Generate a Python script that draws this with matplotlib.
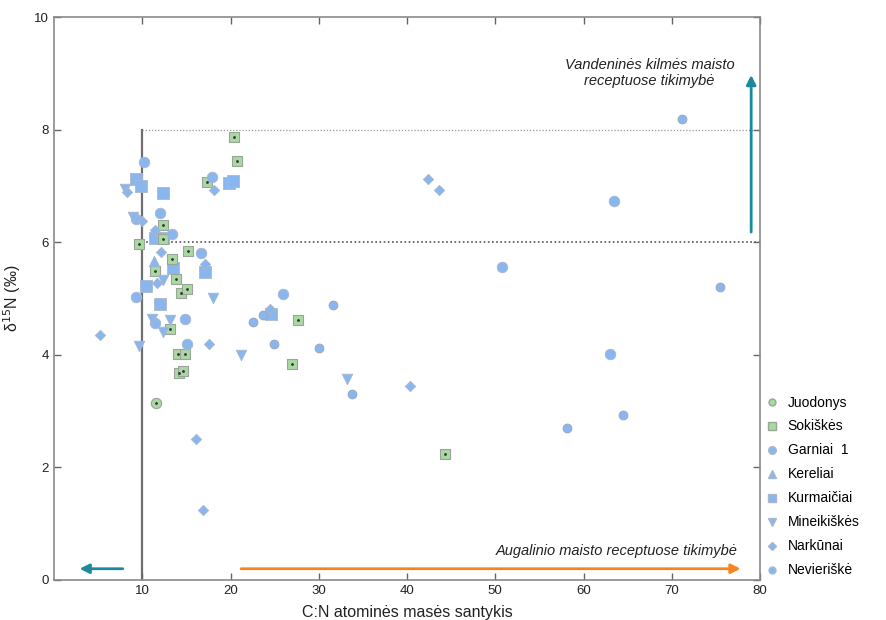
import matplotlib
matplotlib.use("Agg")
import matplotlib.pyplot as plt

plt.rcParams['font.family'] = ['Liberation Sans', 'DejaVu Sans']

# ---- data (C:N ratio, delta15N) ----
juodonys_x = [11.6]
juodonys_y = [3.15]

sokiskes_x = [20.4, 20.7, 17.3, 12.3, 12.3, 9.6, 15.2, 13.4, 11.4, 13.8, 14.4, 15.1,
              13.1, 14.1, 14.8, 14.2, 14.6, 27.7, 27.0, 44.3]
sokiskes_y = [7.87, 7.44, 7.07, 6.31, 6.05, 5.96, 5.85, 5.71, 5.48, 5.34, 5.10, 5.16,
              4.45, 4.01, 4.01, 3.67, 3.71, 4.61, 3.83, 2.24]

garniai_x = [10.2, 12.0, 13.4, 9.3, 16.7, 9.3, 11.5, 14.8, 15.1, 17.9, 26.0, 50.8,
             63.4, 63.0]
garniai_y = [7.43, 6.51, 6.14, 6.42, 5.80, 5.03, 4.57, 4.63, 4.19, 7.15, 5.08, 5.56,
             6.73, 4.01]

kereliai_x = [11.3]
kereliai_y = [5.66]

kurmaiciai_x = [9.3, 9.9, 12.3, 11.5, 12.4, 13.5, 17.1, 10.4, 12.0, 19.8, 20.3, 24.6]
kurmaiciai_y = [7.12, 7.00, 6.87, 6.07, 6.07, 5.54, 5.47, 5.23, 4.90, 7.06, 7.09, 4.72]

mineikiskes_x = [8.0, 8.9, 12.4, 18.0, 11.1, 13.2, 12.4, 9.6, 21.2, 33.2]
mineikiskes_y = [6.95, 6.45, 5.33, 5.01, 4.63, 4.61, 4.41, 4.16, 4.00, 3.57]

narkunai_x = [8.3, 10.0, 11.4, 12.1, 17.1, 11.7, 18.1, 5.2, 17.6, 16.1, 16.9, 24.5,
              40.3, 42.4, 43.6]
narkunai_y = [6.90, 6.37, 6.22, 5.83, 5.61, 5.28, 6.92, 4.35, 4.20, 2.50, 1.24, 4.81,
              3.45, 7.12, 6.93]

nevieriske_x = [71.2, 75.5, 22.6, 23.7, 24.9, 30.0, 31.6, 33.8, 58.1, 64.5]
nevieriske_y = [8.18, 5.21, 4.58, 4.71, 4.20, 4.12, 4.89, 3.30, 2.70, 2.93]

x_ticks = [10, 20, 30, 40, 50, 60, 70, 80]
y_ticks = [0, 2, 4, 6, 8, 10]

blue = '#8ab6ef'
blue_edge = '#a9b8cc'
green = '#a9d8a3'
green_edge = '#9aa59a'
teal = '#1a8a9c'
orange = '#f7841f'

fig = plt.figure(figsize=(8.87, 6.20), dpi=100)
ax = fig.add_axes([54/887, 1-580/620, (760-54)/887, (580-17)/620])

# reference lines
ax.plot([10, 10], [0, 8], color='#6e6e6e', lw=1.6, zorder=1)
ax.plot([10, 80], [6, 6], color='#555555', lw=1.2, ls=(0, (1, 1.5)), zorder=1)
ax.plot([10, 80], [8, 8], color='#999999', lw=0.9, ls=(0, (1, 1.5)), zorder=1)

# series
ax.scatter(sokiskes_x, sokiskes_y, marker='s', s=62, c=green, edgecolors=green_edge,
           linewidths=0.8, zorder=3)
ax.scatter(sokiskes_x, sokiskes_y, marker='.', s=4, c='#333333', zorder=4)
ax.scatter(juodonys_x, juodonys_y, marker='o', s=55, c=green, edgecolors=green_edge,
           linewidths=0.8, zorder=3)
ax.scatter(juodonys_x, juodonys_y, marker='.', s=4, c='#333333', zorder=4)
ax.scatter(garniai_x, garniai_y, marker='o', s=58, c=blue, edgecolors=blue_edge,
           linewidths=0.6, zorder=3)
ax.scatter(kereliai_x, kereliai_y, marker='^', s=58, c=blue, edgecolors=blue_edge,
           linewidths=0.6, zorder=3)
ax.scatter(kurmaiciai_x, kurmaiciai_y, marker='s', s=70, c=blue, edgecolors=blue_edge,
           linewidths=0.6, zorder=2.9)
ax.scatter(mineikiskes_x, mineikiskes_y, marker='v', s=58, c=blue, edgecolors=blue_edge,
           linewidths=0.6, zorder=3)
ax.scatter(narkunai_x, narkunai_y, marker='D', s=28, c=blue, edgecolors=blue_edge,
           linewidths=0.6, zorder=3)
ax.scatter(nevieriske_x, nevieriske_y, marker='o', s=40, c=blue, edgecolors='#9aa8bc',
           linewidths=0.7, zorder=3)

# arrows
ap = dict(arrowstyle='-|>', lw=2.0, mutation_scale=14, shrinkA=0, shrinkB=0)
ax.annotate('', xy=(79.0, 8.97), xytext=(79.0, 6.18),
            arrowprops=dict(ap, color=teal))
ax.annotate('', xy=(2.9, 0.2), xytext=(7.8, 0.2),
            arrowprops=dict(ap, color=teal))
ax.annotate('', xy=(77.8, 0.2), xytext=(21.2, 0.2),
            arrowprops=dict(ap, color=orange))

ax.text(67.5, 9.0, 'Vandeninės kilmės maisto\nreceptuose tikimybė', style='italic',
        fontsize=10.5, ha='center', va='center', color='#222222', linespacing=1.15)
ax.text(77.5, 0.52, 'Augalinio maisto receptuose tikimybė', style='italic',
        fontsize=10.5, ha='right', va='center', color='#222222')

# axes styling
ax.set_xlim(0, 80)
ax.set_ylim(0, 10)
ax.set_xticks(x_ticks)
ax.set_yticks(y_ticks)
ax.tick_params(direction='in', top=True, right=True, length=5, width=1,
               color='#666666', labelsize=9.5, labelcolor='#222222')
for sp in ax.spines.values():
    sp.set_color('#8a8a8a')
    sp.set_linewidth(1.2)
ax.set_xlabel('C:N atominės masės santykis', fontsize=11.5, color='#222222', labelpad=6)
ax.set_ylabel('δ$^{15}$N (‰)', fontsize=11.5, color='#222222', labelpad=8)

# legend
from matplotlib.lines import Line2D
names = ['Juodonys', 'Sokiškės', 'Garniai  1', 'Kereliai', 'Kurmaičiai',
         'Mineikiškės', 'Narkūnai', 'Nevieriškė']
handles = [
    Line2D([], [], ls='', marker='o', ms=5, mfc=green, mec=green_edge),
    Line2D([], [], ls='', marker='s', ms=5.5, mfc=green, mec=green_edge),
    Line2D([], [], ls='', marker='o', ms=5.5, mfc=blue, mec=blue_edge),
    Line2D([], [], ls='', marker='^', ms=5.5, mfc=blue, mec=blue_edge),
    Line2D([], [], ls='', marker='s', ms=6, mfc=blue, mec=blue_edge),
    Line2D([], [], ls='', marker='v', ms=5.5, mfc=blue, mec=blue_edge),
    Line2D([], [], ls='', marker='D', ms=4, mfc=blue, mec=blue_edge),
    Line2D([], [], ls='', marker='o', ms=5, mfc=blue, mec=blue_edge),
]
fig.legend(handles, names, loc='upper left', bbox_to_anchor=(751/887, 1-383/620),
           frameon=False, fontsize=10, labelspacing=0.72, handletextpad=0.55,
           handlelength=1.2)

fig.savefig('out.png', dpi=100)
